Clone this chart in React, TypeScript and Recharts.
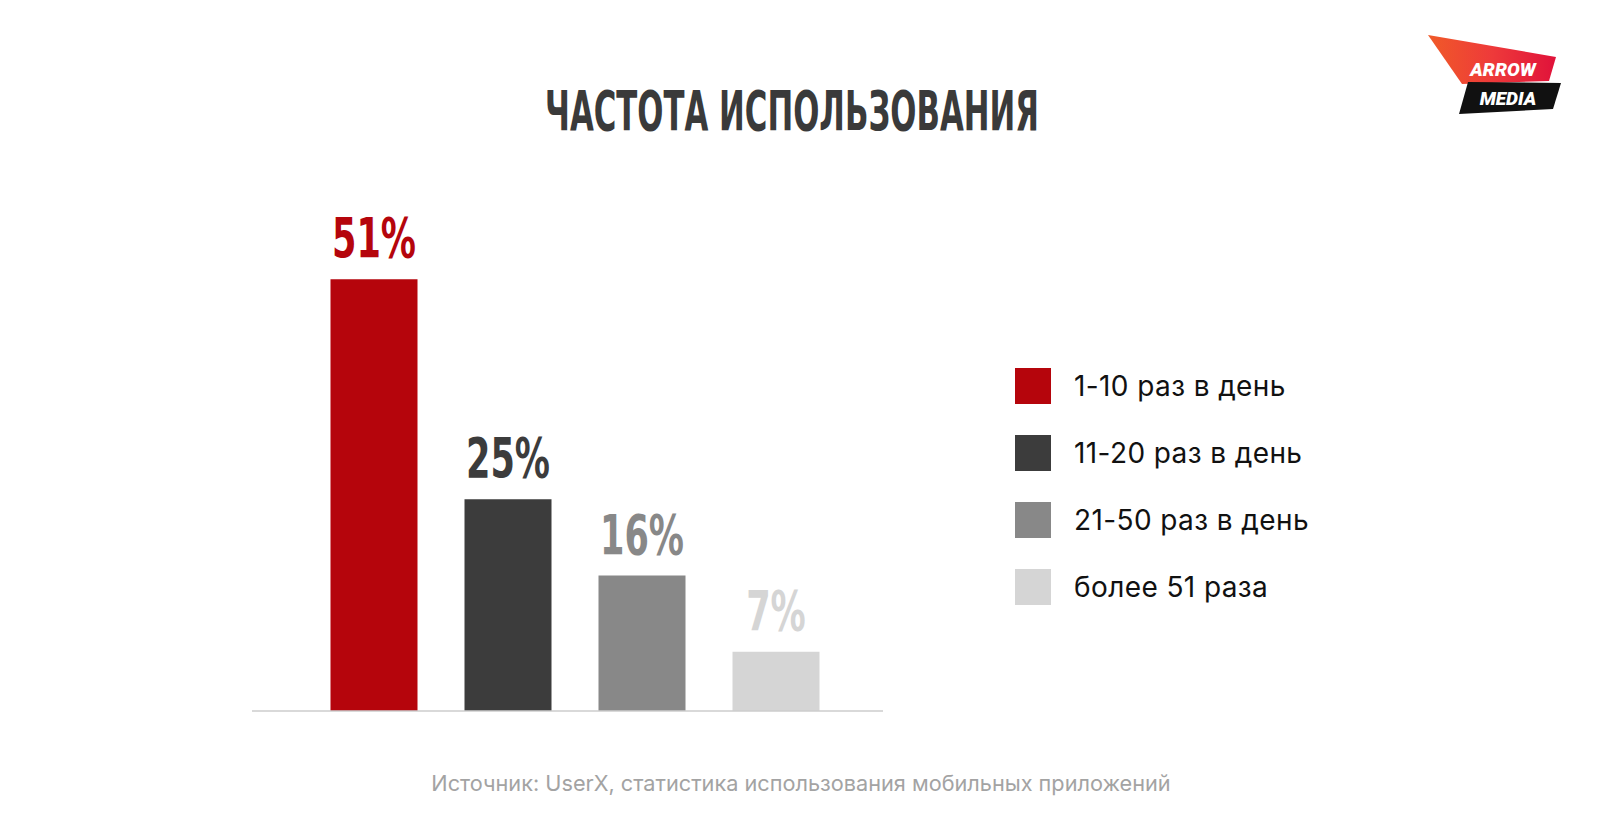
import React from 'react';
import { BarChart, Bar, XAxis, YAxis, Cell, LabelList } from 'recharts';

const categories = ['1-10 раз в день', '11-20 раз в день', '21-50 раз в день', 'более 51 раза'];
const values = [51, 25, 16, 7];
const colors = ['#b5050c', '#3c3c3c', '#888888', '#d5d5d5'];
const title = 'ЧАСТОТА ИСПОЛЬЗОВАНИЯ';
const source = 'Источник: UserX, статистика использования мобильных приложений';

const data = categories.map((name, i) => ({ name, value: values[i] }));

const condensed = '"Liberation Sans Narrow", "DejaVu Sans Condensed", "Roboto Condensed", sans-serif';

const renderLabel = (props: any) => {
  const { x, y, width, index, value } = props;
  return (
    <g transform={`translate(${x + width / 2}, ${y - 22}) scale(0.71, 1)`}>
      <text
        x={0}
        y={0}
        textAnchor="middle"
        fill={colors[index]}
        fontFamily={condensed}
        fontWeight="bold"
        fontSize={55}
      >
        {`${value}%`}
      </text>
    </g>
  );
};

const LegendBox = () => (
  <div style={{ position: 'absolute', left: 1015, top: 368 }}>
    {categories.map((c, i) => (
      <div key={c} style={{ display: 'flex', alignItems: 'center', height: 36, marginBottom: 31 }}>
        <div style={{ width: 36, height: 36, background: colors[i] }} />
        <span style={{ marginLeft: 23, fontFamily: 'Inter, sans-serif', fontSize: 28, letterSpacing: 0.4, color: '#111', whiteSpace: 'nowrap' }}>{c}</span>
      </div>
    ))}
  </div>
);

const Overlay = () => (
  <svg width={1600} height={833} style={{ position: 'absolute', left: 0, top: 0, pointerEvents: 'none' }}>
    <defs>
      <linearGradient id="lg" x1="0" y1="0" x2="1" y2="0">
        <stop offset="0" stopColor="#f05a28" />
        <stop offset="0.5" stopColor="#ee3a3a" />
        <stop offset="1" stopColor="#e0123a" />
      </linearGradient>
    </defs>
    <polygon points="1428,35 1556,57 1549,81 1462,84" fill="url(#lg)" />
    <polygon points="1468,82 1561,83 1553,109 1459,114" fill="#111" />
    <text x={1503} y={76} textAnchor="middle" fill="#fff" fontFamily="Roboto, sans-serif" fontWeight={900} fontStyle="italic" fontSize={19}>ARROW</text>
    <text x={1508} y={105} textAnchor="middle" fill="#fff" fontFamily="Roboto, sans-serif" fontWeight={900} fontStyle="italic" fontSize={19}>MEDIA</text>
    <text x={792} y={130} textAnchor="middle" fill="#3a3a3a" fontFamily={condensed} fontWeight="bold" fontSize={55} textLength={494} lengthAdjust="spacingAndGlyphs">{title}</text>
    <text x={801} y={791} textAnchor="middle" fill="#a3a3a3" fontFamily="Inter, sans-serif" fontSize={21.7}>{source}</text>
  </svg>
);

export default function App() {
  return (
    <div style={{ position: 'absolute', left: 0, top: 0, width: 1600, height: 833, background: '#fff' }}>
      <BarChart
        width={1600}
        height={833}
        data={data}
        margin={{ top: 203, left: 252, right: 717, bottom: 121 }}
        barSize={87}
      >
        <XAxis
          dataKey="name"
          tick={false}
          tickLine={false}
          height={1}
          axisLine={{ stroke: '#cccccc', strokeWidth: 1.5 }}
          padding={{ left: 54.5, right: 40.5 }}
        />
        <YAxis hide domain={[0, 60]} />
        <Bar dataKey="value" isAnimationActive={false}>
          {data.map((d, i) => (
            <Cell key={d.name} fill={colors[i]} />
          ))}
          <LabelList dataKey="value" content={renderLabel} />
        </Bar>
      </BarChart>
      <LegendBox />
      <Overlay />
    </div>
  );
}
